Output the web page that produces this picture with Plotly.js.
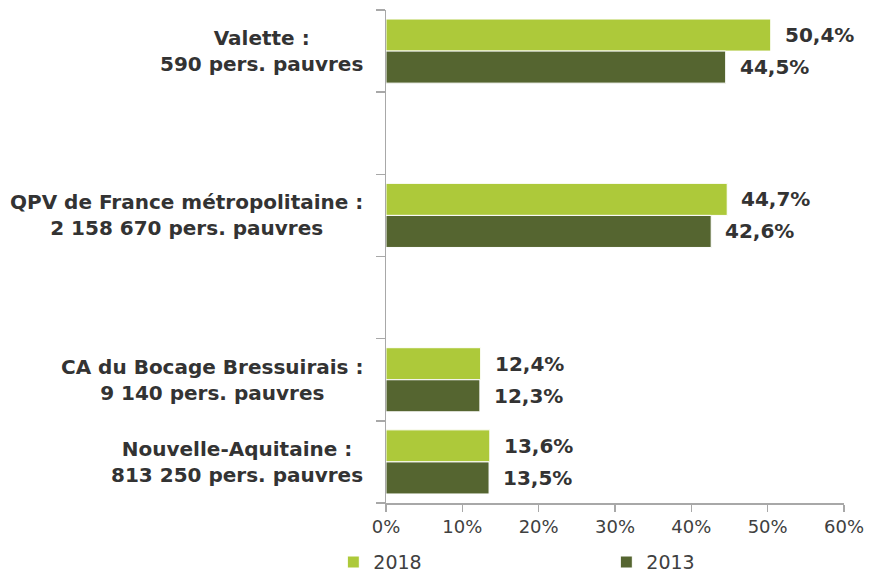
<!DOCTYPE html>
<html>
<head>
<meta charset="utf-8">
<script src="https://cdn.plot.ly/plotly-3.0.1.min.js"></script>
<style>html,body{margin:0;padding:0;background:#fff;}#chart{width:870px;height:573px;}</style>
</head>
<body>
<div id="chart"></div>
<script>
// Categories from bottom to top (blank strings are empty slots)
const categories = [
  'Nouvelle-Aquitaine :<br>813 250 pers. pauvres',
  'CA du Bocage Bressuirais :<br>9 140 pers. pauvres',
  ' ',
  'QPV de France métropolitaine :<br>2 158 670 pers. pauvres',
  '  ',
  'Valette :<br>590 pers. pauvres'
];
const values2018 = [13.6, 12.4, null, 44.7, null, 50.4];
const values2013 = [13.5, 12.3, null, 42.6, null, 44.5];
const seriesNames = ['2018', '2013'];
const tickValues = [0, 10, 20, 30, 40, 50, 60];
const tickLabels = ['0%', '10%', '20%', '30%', '40%', '50%', '60%'];

const LIGHT = '#adc93a';
const DARK = '#556530';
const FONT = '"DejaVu Sans", "Open Sans", Arial, sans-serif';
const TXT = '#333333';
const AXIS = '#a8a8a8';

const fmt = v => v.toFixed(1).replace('.', ',') + '%';

const traces = [
  {
    type: 'bar', orientation: 'h', name: seriesNames[0],
    y: categories, x: values2018,
    width: 0.39, offset: 0,
    marker: {color: LIGHT, line: {color: '#ffffff', width: 1}},
    hoverinfo: 'skip'
  },
  {
    type: 'bar', orientation: 'h', name: seriesNames[1],
    y: categories, x: values2013,
    width: 0.39, offset: -0.39,
    marker: {color: DARK, line: {color: '#ffffff', width: 1}},
    hoverinfo: 'skip'
  }
];

const annotations = [];
categories.forEach((c, i) => {
  if (c.trim() !== '') {
    annotations.push({
      xref: 'paper', yref: 'y', x: 0, y: c,
      xanchor: 'right', yanchor: 'middle', xshift: -21, align: 'center',
      text: '<b>' + c + '</b>', showarrow: false,
      font: {family: FONT, size: 20, color: TXT}
    });
  }
  [[values2018, 16], [values2013, -16]].forEach(([arr, ys]) => {
    const v = arr[i];
    if (v !== null) {
      annotations.push({
        xref: 'x', yref: 'y', x: v, y: c,
        xanchor: 'left', yanchor: 'middle', xshift: 12, yshift: ys,
        text: '<b>' + fmt(v) + '</b>', showarrow: false,
        font: {family: FONT, size: 20, color: TXT}
      });
    }
  });
});

const layout = {
  width: 870, height: 573,
  margin: {l: 386, r: 26, t: 10, b: 70, pad: 0, autoexpand: false},
  paper_bgcolor: '#ffffff', plot_bgcolor: '#ffffff',
  font: {family: FONT, size: 18, color: '#404040'},
  barmode: 'overlay',
  showlegend: true,
  legend: {
    orientation: 'h', x: -0.115, xanchor: 'left', y: -0.12, yanchor: 'middle',
    entrywidth: 228, entrywidthmode: 'pixels',
    font: {family: FONT, size: 19, color: '#404040'},
    traceorder: 'normal'
  },
  xaxis: {
    range: [0, 60], autorange: false,
    tickmode: 'array', tickvals: tickValues, ticktext: tickLabels,
    showgrid: false, zeroline: false,
    showline: true, linecolor: AXIS, linewidth: 1.5,
    ticks: 'outside', ticklen: 7, tickcolor: AXIS, tickwidth: 1.5,
    tickfont: {family: FONT, size: 18, color: '#404040'}
  },
  yaxis: {
    type: 'category', categoryorder: 'array', categoryarray: categories,
    range: [-0.5, 5.5], autorange: false,
    showticklabels: false, showgrid: false, zeroline: false,
    showline: true, linecolor: AXIS, linewidth: 1.5,
    ticks: 'outside', tickson: 'boundaries', ticklen: 9, tickcolor: AXIS, tickwidth: 1.5
  },
  annotations: annotations
};

Plotly.newPlot('chart', traces, layout, {displayModeBar: false, staticPlot: true});
</script>
</body>
</html>
